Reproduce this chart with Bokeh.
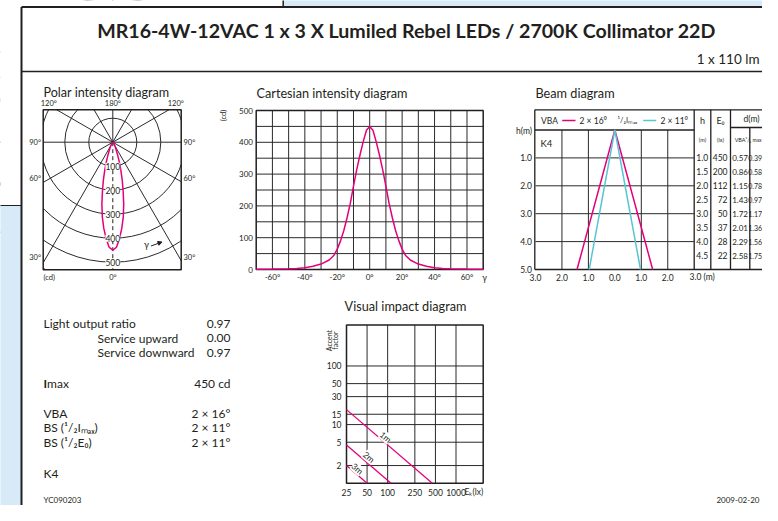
import numpy as np
from bokeh.plotting import figure
from bokeh.models import Range1d, LogScale, Arrow, NormalHead
from bokeh.core.properties import value
from bokeh.embed import file_html
from bokeh.resources import INLINE

# ------------------------------------------------------------------ data
title_text = "MR16-4W-12VAC 1 x 3 X Lumiled Rebel LEDs / 2700K Collimator 22D"
flux_text = "1 x 110 lm"

# luminous intensity distribution (gamma in degrees, intensity in cd)
gamma_deg = [-70, -60, -50, -45, -40, -35, -30, -25, -22, -20, -18, -16, -14, -12, -10, -8, -6, -4, -2,
             0,
             2, 4, 6, 8, 10, 12, 14, 16, 18, 20, 22, 25, 30, 35, 40, 45, 50, 60, 70]
intensity_cd = [0.6, 1.2, 2.5, 3.5, 5.5, 10, 17, 30, 45, 64, 90, 122, 162, 207, 262, 314, 360, 402, 438,
                450,
                438, 402, 360, 314, 262, 207, 162, 122, 90, 64, 45, 30, 17, 10, 5.5, 3.5, 2.5, 1.2, 0.6]

cart_xticks = [-60, -40, -20, 0, 20, 40, 60]
cart_xtick_labels = ["-60°", "-40°", "-20°", "0°", "20°", "40°", "60°"]
cart_yticks = [0, 100, 200, 300, 400, 500]
cart_ytick_labels = ["0", "100", "200", "300", "400", "500"]
cart_xgrid = [-60, -50, -40, -30, -20, -10, 0, 10, 20, 30, 40, 50, 60]
cart_ygrid = [50, 100, 150, 200, 250, 300, 350, 400, 450]

polar_rings = [100, 200, 300, 400, 500, 600]
polar_ring_labels = ["100", "200", "300", "400", "500"]
polar_ring_label_r = [100, 200, 300, 400, 500]
polar_spokes_deg = [30, 60]
polar_angle_labels = ["120°", "180°", "120°", "90°", "90°", "60°", "60°", "30°", "30°", "(cd)", "0°"]

beam_h = [5, 0, 5]
beam_vba_d = [-1.43, 0, 1.43]
beam_bs_d = [-0.97, 0, 0.97]
beam_xticks = [-3, -2, -1, 0, 1, 2]
beam_xtick_labels = ["3.0", "2.0", "1.0", "0.0", "1.0", "2.0"]
beam_xlast_label = "3.0 (m)"
beam_yticks = [1, 2, 3, 4, 5]
beam_ytick_labels = ["1.0", "2.0", "3.0", "4.0", "5.0"]
beam_xgrid = [-2, -1, 1, 2]
beam_ygrid = [1, 2, 3, 4]

table_h = [1.0, 1.5, 2.0, 2.5, 3.0, 3.5, 4.0, 4.5]
table_e0 = [450, 200, 112, 72, 50, 37, 28, 22]
table_d_vba = [0.57, 0.86, 1.15, 1.43, 1.72, 2.01, 2.29, 2.58]
table_d_half_imax = [0.39, 0.58, 0.78, 0.97, 1.17, 1.36, 1.56, 1.75]

vi_ek = [[25, 450], [25, 112], [25, 50]]
vi_accent = [[18, 1], [4.48, 1], [2, 1]]
vi_line_names = ["1m", "2m", "3m"]
vi_xticks = [25, 50, 100, 250, 500, 1000]
vi_xtick_labels = ["25", "50", "100", "250", "500", "1000"]
vi_yticks = [2, 5, 10, 15, 30, 50, 100]
vi_ytick_labels = ["2", "5", "10", "15", "30", "50", "100"]
vi_xgrid = [50, 100, 250, 500, 1000]
vi_ygrid = [2, 5, 10, 15, 30, 50, 100]

info_names = ["Light output ratio", "Service upward", "Service downward", "max",
              "VBA", "BS (¹/₂Iₘₐₓ)", "BS (¹/₂E₀)"]
info_values = ["0.97", "0.00", "0.97", "450 cd", "2 × 16°", "2 × 11°", "2 × 11°"]
class_text = "K4"
doc_code = "YC090203"
doc_date = "2009-02-20"

# ------------------------------------------------------------------ style
DARK = "#231f20"
GRID = "#2a2a2a"
MAGENTA = "#e4007c"
CYAN = "#55c6d3"
BLUE_BG = "#d6eaf8"
FONT = "Lato"

# frame in reference-pixel coordinates
FX0, FX1, FY0, FY1 = 0, 762, 0, 505

p = figure(width=FX1 - FX0, height=FY1 - FY0,
           x_range=Range1d(FX0, FX1), y_range=Range1d(FY1, FY0),
           x_axis_type=None, y_axis_type=None, toolbar_location=None,
           output_backend="svg", min_border=0)
p.outline_line_color = None
p.background_fill_color = "white"
p.border_fill_color = "white"


def lin_x(p0, v0, p1, v1):
    s = (v1 - v0) / (p1 - p0)
    return Range1d(start=float(v0 + (FX0 - p0) * s), end=float(v0 + (FX1 - p0) * s))


def lin_y(p0, v0, p1, v1):
    s = (v1 - v0) / (p1 - p0)
    return Range1d(start=float(v0 + (FY1 - p0) * s), end=float(v0 + (FY0 - p0) * s))


def log_x(p0, v0, p1, v1):
    a, b = np.log10(v0), np.log10(v1)
    s = (b - a) / (p1 - p0)
    return Range1d(start=float(10 ** (a + (FX0 - p0) * s)), end=float(10 ** (a + (FX1 - p0) * s)))


def log_y(p0, v0, p1, v1):
    a, b = np.log10(v0), np.log10(v1)
    s = (b - a) / (p1 - p0)
    return Range1d(start=float(10 ** (a + (FY1 - p0) * s)), end=float(10 ** (a + (FY0 - p0) * s)))


p.extra_x_ranges = {
    "polar": lin_x(112.3, 0, 136.3, 100),
    "cart": lin_x(255.7, -70, 482.7, 70),
    "beam": lin_x(535.0, -3, 693.7, 3),
    "vi": log_x(346.0, 25, 482.7, 2500),
}
p.extra_y_ranges = {
    "polar": lin_y(141.7, 0, 117.7, 100),
    "cart": lin_y(269.0, 0, 110.0, 500),
    "beam": lin_y(129.5, 0, 269.0, 5),
    "vi": log_y(482.7, 1, 324.5, 500),
}
p.extra_x_scales = {"vi": LogScale()}
p.extra_y_scales = {"vi": LogScale()}


def put_text(xs, ys, texts, size, align="left", baseline="middle", color=DARK, bold=False,
             angle=0.0, xr="default", yr="default", bg=None):
    kw = {}
    if bg is not None:
        kw["background_fill_color"] = bg
    p.text(x=list(xs), y=list(ys), text=list(texts), text_font=value(FONT),
           text_font_size=value(f"{size}px"), text_align=align, text_baseline=baseline,
           text_color=color, text_font_style="bold" if bold else "normal", angle=angle,
           x_range_name=xr, y_range_name=yr, **kw)


# ------------------------------------------------------------------ polar diagram
pr = dict(x_range_name="polar", y_range_name="polar")
p.circle(x=[0] * len(polar_rings), y=[0] * len(polar_rings), radius=polar_rings,
         fill_color=None, line_color=GRID, line_width=1, **pr)
L = 620
srad = np.radians(polar_spokes_deg)
sx, sy = L * np.sin(srad), L * np.cos(srad)
p.segment(x0=np.concatenate([-sx, sx]), y0=np.concatenate([-sy, -sy]),
          x1=np.concatenate([sx, -sx]), y1=np.concatenate([sy, sy]),
          line_color=GRID, line_width=1, **pr)
p.segment(x0=[-L], y0=[0], x1=[L], y1=[0], line_color=GRID, line_width=1, **pr)
p.segment(x0=[0], y0=[0], x1=[0], y1=[L], line_color=GRID, line_width=1, **pr)
p.segment(x0=[0], y0=[0], x1=[0], y1=[-L], line_color=DARK, line_width=1, line_dash="4 3", **pr)

# white masks that clip the polar grid to its box
PB = (42.7, 180.7, 109.3, 269.3)
p.quad(left=[-200, PB[1], -200, -200], right=[PB[0], 262, 262, 262],
       top=[-200, -200, -200, PB[3]], bottom=[320, 320, PB[2], 320],
       fill_color="white", line_color=None)

g = np.radians(gamma_deg)
I = np.array(intensity_cd)
p.line(x=I * np.sin(g), y=-I * np.cos(g), line_color=MAGENTA, line_width=1.5, **pr)
p.quad(left=[PB[0]], right=[PB[1]], top=[PB[2]], bottom=[PB[3]], fill_color=None,
       line_color=DARK, line_width=1.5)
put_text([0] * len(polar_ring_label_r), [-r for r in polar_ring_label_r], polar_ring_labels, 8.5,
         align="center", xr="polar", yr="polar", bg="white")
pa_x = [48.3, 112.4, 175.3, 40.5, 183, 40.5, 183, 40.5, 183, 43, 112.4]
pa_y = [103.3, 103.3, 103.3, 141.7, 141.7, 178.3, 178.3, 257.3, 257.3, 277.3, 277.3]
pa_al = ["center", "center", "center", "right", "left", "right", "left", "right", "left", "left", "center"]
for xx, yy, tt, al in zip(pa_x, pa_y, polar_angle_labels, pa_al):
    put_text([xx], [yy], [tt], 7.5, align=al)
put_text([146], [243.5], ["γ"], 9, align="center")
p.add_layout(Arrow(end=NormalHead(size=4, fill_color=DARK, line_color=DARK),
                   x_start=150.5, y_start=245.5, x_end=161.5, y_end=241.5,
                   line_color=DARK, line_width=1))
put_text([43], [92], ["Polar intensity diagram"], 12.6)

# ------------------------------------------------------------------ frame / background
p.quad(left=[-5], right=[21], top=[205], bottom=[530], fill_color=BLUE_BG, line_color=None)
p.quad(left=[282.7], right=[790], top=[-5], bottom=[5.8], fill_color=BLUE_BG, line_color=None)
p.segment(x0=[-5], y0=[205], x1=[21], y1=[205], line_color=DARK, line_width=1)
p.segment(x0=[282.7], y0=[-5], x1=[282.7], y1=[6.5], line_color=DARK, line_width=1.5)
p.segment(x0=[21], y0=[6.5], x1=[21], y1=[530], line_color=DARK, line_width=2)
p.segment(x0=[21], y0=[6.5], x1=[790], y1=[6.5], line_color=DARK, line_width=2)
p.segment(x0=[21], y0=[71], x1=[790], y1=[71], line_color=DARK, line_width=1.5)
put_text([406], [30], [title_text], 19.6, align="center", bold=True)
put_text([759], [58], [flux_text], 13.5, align="right")

# ------------------------------------------------------------------ cartesian diagram
cr = dict(x_range_name="cart", y_range_name="cart")
p.segment(x0=cart_xgrid, y0=[0] * len(cart_xgrid), x1=cart_xgrid, y1=[500] * len(cart_xgrid),
          line_color=GRID, line_width=1, **cr)
p.segment(x0=[-70] * len(cart_ygrid), y0=cart_ygrid, x1=[70] * len(cart_ygrid), y1=cart_ygrid,
          line_color=GRID, line_width=1, **cr)
p.quad(left=[-70], right=[70], bottom=[0], top=[500], fill_color=None, line_color=DARK,
       line_width=1.5, **cr)
p.line(x=gamma_deg, y=intensity_cd, line_color=MAGENTA, line_width=1.5, **cr)
put_text(cart_xticks, [276.7] * len(cart_xticks), cart_xtick_labels, 8, align="center", xr="cart")
put_text([252.5] * len(cart_yticks), cart_yticks, cart_ytick_labels, 8, align="right", yr="cart")
put_text([484], [277], ["γ"], 8.5, align="center")
put_text([223], [115], ["(cd)"], 7.5, align="center", angle=np.pi / 2)
put_text([256], [92], ["Cartesian intensity diagram"], 12.7)

# ------------------------------------------------------------------ beam diagram
br = dict(x_range_name="beam", y_range_name="beam")
p.segment(x0=[534.3, 534.3, 534.3, 534.3, 693.7, 710.3, 730.0, 749.3, 768.3, 730.0],
          y0=[109.3, 269.0, 109.3, 129.5, 109.3, 109.3, 109.3, 127.0, 127.0, 127.0],
          x1=[790, 790, 534.3, 693.7, 693.7, 710.3, 730.0, 749.3, 768.3, 790],
          y1=[109.3, 269.0, 269.0, 129.5, 269.0, 269.0, 269.0, 269.0, 269.0, 127.0],
          line_color=DARK, line_width=1.3)
p.segment(x0=beam_xgrid, y0=[0] * len(beam_xgrid), x1=beam_xgrid, y1=[5] * len(beam_xgrid),
          line_color=GRID, line_width=1, **br)
p.segment(x0=[-3] * len(beam_ygrid), y0=beam_ygrid, x1=[3] * len(beam_ygrid), y1=beam_ygrid,
          line_color=GRID, line_width=1, **br)
p.line(x=beam_vba_d, y=beam_h, line_color=MAGENTA, line_width=1.5, **br)
p.line(x=beam_bs_d, y=beam_h, line_color=CYAN, line_width=1.5, **br)
put_text(beam_xticks, [276.7] * len(beam_xticks), beam_xtick_labels, 8.5, align="center", xr="beam")
put_text([689], [276.7], [beam_xlast_label], 8.5, align="left")
put_text([531.5] * len(beam_yticks), beam_yticks, beam_ytick_labels, 8.5, align="right", yr="beam")
put_text([531.5], [130], ["h(m)"], 8.5, align="right")
put_text([540.5], [120], ["VBA"], 8.5)
p.segment(x0=[561.7], y0=[120], x1=[575], y1=[120], line_color=MAGENTA, line_width=1.5)
put_text([579], [120], [info_values[4]], 8.5)
put_text([617], [120], ["¹/₂Iₘₐₓ"], 7.5)
p.segment(x0=[642.7], y0=[120], x1=[655.7], y1=[120], line_color=CYAN, line_width=1.5)
put_text([660], [120], [info_values[5]], 8.5)
put_text([540], [143.3], [class_text], 9.5)
put_text([702, 720], [119.5, 119.5], ["h", "E₀"], 9, align="center")
put_text([751], [118.5], ["d(m)"], 8.5, align="center")
put_text([702, 720, 739.6], [139, 139, 139], ["(m)", "(lx)", "VBA"], 5.5, align="center")
put_text([761], [139], ["¹/₂ max"], 5, align="right")
put_text([707.7] * len(table_h), table_h, [f"{v:.1f}" for v in table_h], 8.5, align="right", yr="beam")
put_text([727] * len(table_h), table_h, [str(v) for v in table_e0], 8.5, align="right", yr="beam")
put_text([739.6] * len(table_h), table_h, [f"{v:.2f}" for v in table_d_vba], 8, align="center", yr="beam")
put_text([761.6] * len(table_h), table_h, [f"{v:.2f}" for v in table_d_half_imax], 7, align="right",
         yr="beam")
put_text([535], [92], ["Beam diagram"], 12.7)

# ------------------------------------------------------------------ visual impact diagram
vr = dict(x_range_name="vi", y_range_name="vi")
p.segment(x0=vi_xgrid, y0=[1] * len(vi_xgrid), x1=vi_xgrid, y1=[500] * len(vi_xgrid),
          line_color=GRID, line_width=1, **vr)
p.segment(x0=[25] * len(vi_ygrid), y0=vi_ygrid, x1=[2500] * len(vi_ygrid), y1=vi_ygrid,
          line_color=GRID, line_width=1, **vr)
p.quad(left=[25], right=[2500], bottom=[1], top=[500], fill_color=None, line_color=DARK,
       line_width=1.5, **vr)
p.multi_line(xs=vi_ek, ys=vi_accent, line_color=MAGENTA, line_width=1.3, **vr)
put_text([385, 368.3, 356.7], [436.7, 456.7, 468.3], vi_line_names, 8.5, align="center",
         angle=-0.70, bg="white")
put_text(vi_xticks, [491.7] * len(vi_xticks), vi_xtick_labels, 8.5, align="center", xr="vi")
put_text([464], [491.7], ["Eₖ(lx)"], 8.5)
put_text([341] * len(vi_yticks), vi_yticks, vi_ytick_labels, 8.5, align="right", yr="vi")
put_text([328.5, 334], [340, 340], ["Accent", "factor"], 7, align="center", angle=np.pi / 2)
put_text([405], [305], ["Visual impact diagram"], 12.7, align="center")

# ------------------------------------------------------------------ info block
put_text([43, 97, 97], [323.3, 337.7, 352.3], info_names[:3], 12)
put_text([43], [382.7], ["I"], 12, bold=True)
put_text([46.6], [382.7], [info_names[3]], 12)
put_text([43, 43, 43], [412.7, 427.3, 442.3], info_names[4:], 12)
put_text([230] * 7, [323.3, 337.7, 352.3, 382.7, 412.7, 427.3, 442.3], info_values, 12, align="right")
put_text([43], [473.3], [class_text], 12)
put_text([43], [499.5], [doc_code], 8)
put_text([759], [499.5], [doc_date], 8, align="right")

open("out.html", "w").write(file_html(p, INLINE))
